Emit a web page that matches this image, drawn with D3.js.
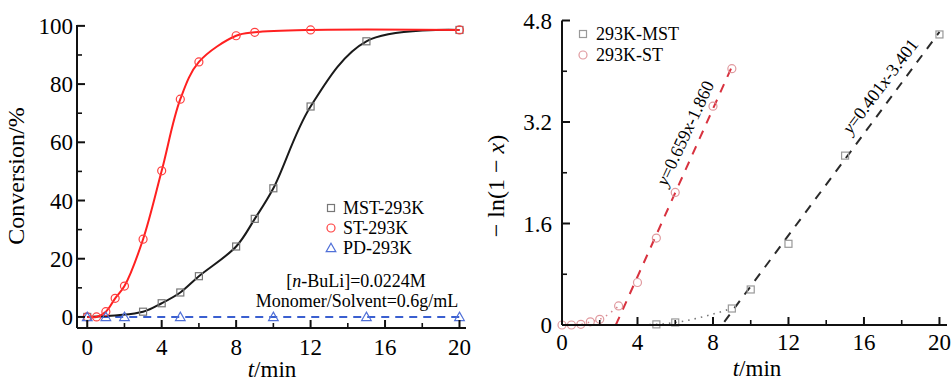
<!DOCTYPE html>
<html>
<head>
<meta charset="utf-8">
<script src="https://cdn.jsdelivr.net/npm/d3@7"></script>
<style>
  html, body { margin: 0; padding: 0; background: #fff; }
  svg { display: block; font-family: "Liberation Serif", "DejaVu Serif", serif; }
</style>
</head>
<body>
<svg id="chart" width="952" height="383"></svg>
<script>
// left panel: conversion vs time
const mstT = [0, 3, 4, 5, 6, 8, 9, 10, 12, 15, 20];
const mstConv = [0, 1.8, 4.7, 8.4, 14, 24.2, 33.7, 44.2, 72.3, 94.7, 98.6];
const stT = [0, 0.5, 1, 1.5, 2, 3, 4, 5, 6, 8, 9, 12, 20];
const stConv = [0, 0, 1.8, 6.4, 10.6, 26.7, 50.2, 74.8, 87.6, 96.6, 97.8, 98.6, 98.6];
const pdT = [0, 1, 2, 5, 10, 15, 20];
const pdConv = [0, 0, 0, 0, 0, 0, 0];

// right panel: -ln(1-x) vs time
const stLnT = [0, 0.5, 1, 1.5, 2, 3, 4, 5, 6, 8, 9];
const stLn = [0, 0, 0.01, 0.05, 0.09, 0.3, 0.67, 1.37, 2.09, 3.45, 4.04];
const mstLnT = [5, 6, 9, 10, 12, 15, 20];
const mstLn = [0.01, 0.04, 0.26, 0.56, 1.28, 2.67, 4.58];
// fitted straight lines, end points
const stFit = [[2.85, 0], [9, 4.07]];
const mstFit = [[8.6, 0.05], [20, 4.62]];
const stFitLabel = ["y", "=0.659", "x", "-1.860"];
const mstFitLabel = ["y", "=0.401", "x", "-3.401"];

const leftYTicks = [0, 20, 40, 60, 80, 100];
const xTicks = [0, 4, 8, 12, 16, 20];
const rightYTicks = [0, 1.6, 3.2, 4.8];

const svg = d3.select("#chart");
const pair = (xs, ys) => xs.map((x, i) => [x, ys[i]]);

function drawAxes(g, x, y, yMajor, yMinor, xMajor, xMinor, yFmt, yLabelDx, xLabelY) {
    const [x0] = x.range();
    const [y0] = y.range();
    // frame lines
    g.append("line").attr("x1", x0).attr("x2", x0).attr("y1", y.range()[1]).attr("y2", y0)
        .attr("stroke", "#111").attr("stroke-width", 2);
    g.append("line").attr("x1", x0).attr("x2", x.range()[1]).attr("y1", y0).attr("y2", y0)
        .attr("stroke", "#111").attr("stroke-width", 2);
    // ticks point inward
    yMajor.forEach(v => {
        g.append("line").attr("x1", x0).attr("x2", x0 + 8).attr("y1", y(v)).attr("y2", y(v))
            .attr("stroke", "#111").attr("stroke-width", 2);
        g.append("text").attr("x", x0 - yLabelDx).attr("y", y(v)).attr("dy", "0.35em")
            .attr("text-anchor", "end").attr("font-size", 23).text(yFmt(v));
    });
    yMinor.forEach(v => {
        g.append("line").attr("x1", x0).attr("x2", x0 + 5).attr("y1", y(v)).attr("y2", y(v))
            .attr("stroke", "#111").attr("stroke-width", 1.6);
    });
    xMajor.forEach(v => {
        g.append("line").attr("x1", x(v)).attr("x2", x(v)).attr("y1", y0).attr("y2", y0 - 8)
            .attr("stroke", "#111").attr("stroke-width", 2);
        g.append("text").attr("x", x(v)).attr("y", xLabelY).attr("dy", "0.35em")
            .attr("text-anchor", "middle").attr("font-size", 23).text(v);
    });
    xMinor.forEach(v => {
        g.append("line").attr("x1", x(v)).attr("x2", x(v)).attr("y1", y0).attr("y2", y0 - 5)
            .attr("stroke", "#111").attr("stroke-width", 1.6);
    });
}

function marker(g, type, cx, cy, color, size) {
    if (type === "square") {
        g.append("rect").attr("x", cx - size / 2).attr("y", cy - size / 2)
            .attr("width", size).attr("height", size)
            .attr("fill", "none").attr("stroke", color).attr("stroke-width", 1.2);
    } else if (type === "circle") {
        g.append("circle").attr("cx", cx).attr("cy", cy).attr("r", size / 2 + 0.5)
            .attr("fill", "none").attr("stroke", color).attr("stroke-width", 1.2);
    } else {
        const s = size + 1;
        g.append("path")
            .attr("d", `M${cx},${cy - s * 0.6}L${cx + s * 0.6},${cy + s * 0.45}L${cx - s * 0.6},${cy + s * 0.45}Z`)
            .attr("fill", "none").attr("stroke", color).attr("stroke-width", 1.2);
    }
}

// ---------- left panel ----------
const L = svg.append("g");
const xL = d3.scaleLinear().domain([-0.55, 20.35]).range([77, 466]);
const yL = d3.scaleLinear().domain([-3.8, 100.3]).range([328, 25]);

const lineL = d3.line().x(d => xL(d[0])).y(d => yL(d[1])).curve(d3.curveCatmullRom.alpha(0.5));

L.append("path").datum(pair(pdT, pdConv)).attr("fill", "none")
    .attr("stroke", "#3a5fd0").attr("stroke-width", 2).attr("stroke-dasharray", "8,6")
    .attr("d", d3.line().x(d => xL(d[0])).y(d => yL(d[1])));
L.append("path").datum(pair(mstT, mstConv)).attr("fill", "none")
    .attr("stroke", "#1a1a1a").attr("stroke-width", 2).attr("d", lineL);
L.append("path").datum(pair(stT, stConv)).attr("fill", "none")
    .attr("stroke", "#ff2020").attr("stroke-width", 2).attr("d", lineL);

pair(mstT, mstConv).forEach(d => marker(L, "square", xL(d[0]), yL(d[1]), "#777", 7));
pair(stT, stConv).forEach(d => marker(L, "circle", xL(d[0]), yL(d[1]), "#ff4040", 7));
pair(pdT, pdConv).forEach(d => marker(L, "triangle", xL(d[0]), yL(d[1]), "#5070d8", 7));

drawAxes(L, xL, yL, leftYTicks, [10, 30, 50, 70, 90], xTicks, [2, 6, 10, 14, 18],
    d => d, 4, 347);

L.append("text").attr("transform", "translate(24,176) rotate(-90)")
    .attr("text-anchor", "middle").attr("font-size", 24).text("Conversion/%");
L.append("text").attr("x", 272).attr("y", 369).attr("dy", "0.35em")
    .attr("text-anchor", "middle").attr("font-size", 23)
    .call(t => { t.append("tspan").attr("font-style", "italic").text("t"); t.append("tspan").text("/min"); });

const legL = [["square", "#777", "MST-293K"], ["circle", "#ff4040", "ST-293K"], ["triangle", "#5070d8", "PD-293K"]];
legL.forEach((d, i) => {
    const yy = 208 + i * 20;
    marker(L, d[0], 331, yy, d[1], 7);
    L.append("text").attr("x", 343).attr("y", yy).attr("dy", "0.35em")
        .attr("font-size", 18).text(d[2]);
});
L.append("text").attr("x", 356).attr("y", 281).attr("dy", "0.35em")
    .attr("text-anchor", "middle").attr("font-size", 18)
    .call(t => {
        t.append("tspan").text("[");
        t.append("tspan").attr("font-style", "italic").text("n");
        t.append("tspan").text("-BuLi]=0.0224M");
    });
L.append("text").attr("x", 357).attr("y", 301).attr("dy", "0.35em")
    .attr("text-anchor", "middle").attr("font-size", 18).text("Monomer/Solvent=0.6g/mL");

// ---------- right panel ----------
const R = svg.append("g");
const xR = d3.scaleLinear().domain([0, 20.4]).range([562, 947]);
const yR = d3.scaleLinear().domain([0, 4.8]).range([325, 20.5]);
const lineR = d3.line().x(d => xR(d[0])).y(d => yR(d[1]));
const lineRc = d3.line().x(d => xR(d[0])).y(d => yR(d[1])).curve(d3.curveMonotoneX);

// dotted guides through the early points
R.append("path").datum(pair(stLnT, stLn).filter(d => d[0] <= 3)).attr("fill", "none")
    .attr("stroke", "#d88890").attr("stroke-width", 1.6).attr("stroke-dasharray", "1.5,5")
    .attr("d", lineRc);
R.append("path").datum([[3.6, 0]].concat(pair(mstLnT, mstLn).filter(d => d[0] <= 9))).attr("fill", "none")
    .attr("stroke", "#777").attr("stroke-width", 1.6).attr("stroke-dasharray", "1.5,5")
    .attr("d", lineRc);

R.append("path").datum(stFit).attr("fill", "none")
    .attr("stroke", "#d8323f").attr("stroke-width", 2).attr("stroke-dasharray", "9,8")
    .attr("d", lineR);
R.append("path").datum(mstFit).attr("fill", "none")
    .attr("stroke", "#2a2a2a").attr("stroke-width", 2).attr("stroke-dasharray", "9,8")
    .attr("d", lineR);

pair(stLnT, stLn).forEach(d => marker(R, "circle", xR(d[0]), yR(d[1]), "#e09a9f", 7));
pair(mstLnT, mstLn).forEach(d => marker(R, "square", xR(d[0]), yR(d[1]), "#999", 7));

drawAxes(R, xR, yR, rightYTicks, [0.8, 2.4, 4.0], xTicks, [2, 6, 10, 14, 18],
    d => d === 0 ? "0" : d.toFixed(1), 10, 342);

R.append("text").attr("transform", "translate(504,186) rotate(-90)")
    .attr("text-anchor", "middle").attr("font-size", 24)
    .call(t => {
        t.append("tspan").text("\u2212 ln(1 \u2212 ");
        t.append("tspan").attr("font-style", "italic").text("x");
        t.append("tspan").text(")");
    });
R.append("text").attr("x", 757).attr("y", 368).attr("dy", "0.35em")
    .attr("text-anchor", "middle").attr("font-size", 23)
    .call(t => { t.append("tspan").attr("font-style", "italic").text("t"); t.append("tspan").text("/min"); });

function fitLabel(parts, cx, cy, angle) {
    R.append("text").attr("transform", `translate(${cx},${cy}) rotate(${angle})`)
        .attr("text-anchor", "middle").attr("dy", "0.35em").attr("font-size", 18)
        .call(t => parts.forEach((p, i) =>
            t.append("tspan").attr("font-style", i % 2 === 0 ? "italic" : "normal").text(p)));
}
fitLabel(stFitLabel, 685, 133, -65);
fitLabel(mstFitLabel, 880, 86, -53);

const legR = [["square", "#999", "293K-MST"], ["circle", "#e09a9f", "293K-ST"]];
legR.forEach((d, i) => {
    const yy = 34 + i * 21;
    marker(R, d[0], 583, yy, d[1], 7);
    R.append("text").attr("x", 596).attr("y", yy).attr("dy", "0.35em")
        .attr("font-size", 18).text(d[2]);
});
</script>
</body>
</html>
